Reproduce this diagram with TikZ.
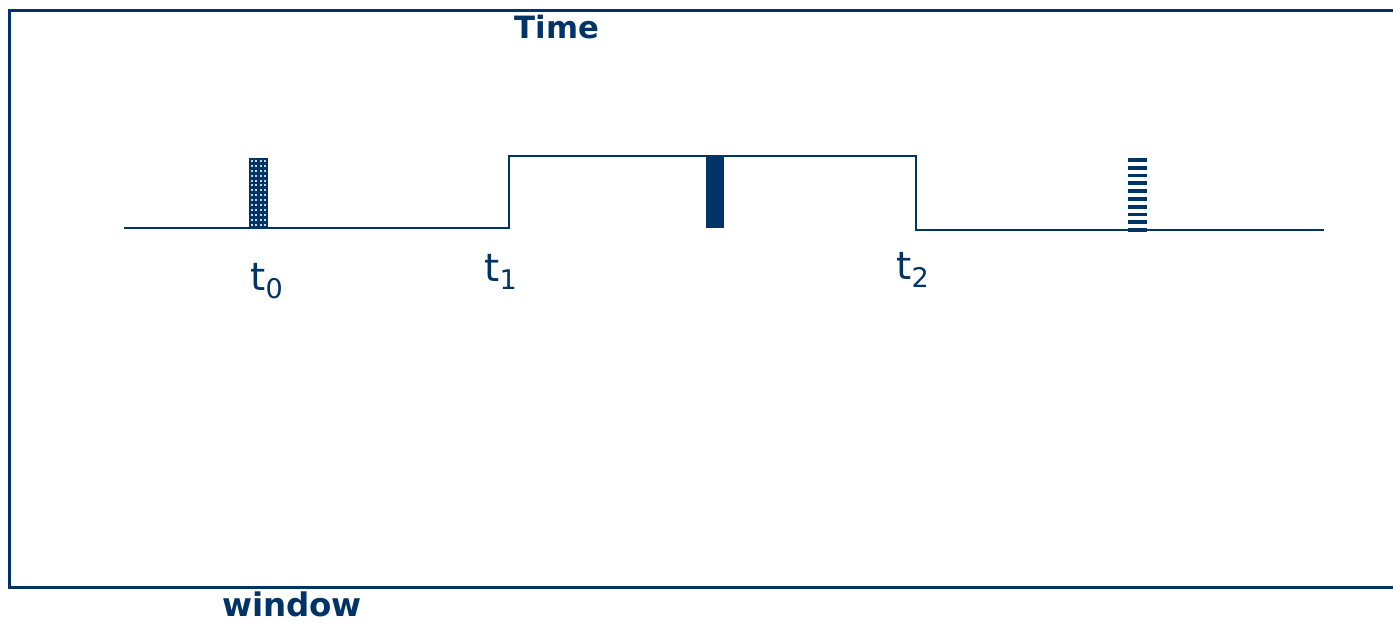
\documentclass[tikz,border=0pt]{standalone}
\usepackage{fontspec}
\setmainfont{DejaVu Sans}
\usetikzlibrary{positioning}
\definecolor{navy}{RGB}{0,51,102}

\begin{document}
\begin{tikzpicture}[x=0.2mm,y=-0.2mm,
    frameline/.style={navy, line width=0.6mm},
    signal/.style={navy, line width=0.4mm},
    bigword/.style={navy, font=\bfseries\fontsize{17.5}{20}\selectfont, inner sep=0},
    tlabel/.style={navy, font=\fontsize{22}{24}\selectfont, anchor=base west, inner sep=0}]
    \useasboundingbox (0,0) rectangle (1393,622);

    % frame, open on the right
    \draw[frameline] (1400,11) -- (9,11) -- (9,587) -- (1400,587);
    \node (Time) at (557,27) [bigword] {Time};
    \node (Win) at (292,604) [bigword, font=\bfseries\fontsize{18.5}{20}\selectfont] {window};

    % the signal
    \draw[signal] (124,228) -- (509,228) -- (509,156) -- (916,156) -- (916,230) -- (1324,230);

    % dotted bar
    \fill[navy] (249,158) rectangle (268,228);
    \foreach \i in {0,...,3}
      \foreach \j in {0,...,13}
        \fill[white!80!navy] (250.5+4.6*\i,160+4.9*\j) rectangle +(2,2);
    % solid bar
    \fill[navy] (706,156) rectangle (724,228);
    % striped bar
    \foreach \j in {0,...,9}
      \fill[navy] (1128,158+7.8*\j) rectangle +(19,3.8);

    \node (T0) at (250,291) [tlabel] {t\textsubscript{0}};
    \node (T1) at (484,282) [tlabel] {t\textsubscript{1}};
    \node (T2) at (896,280) [tlabel] {t\textsubscript{2}};
\end{tikzpicture}
\end{document}
